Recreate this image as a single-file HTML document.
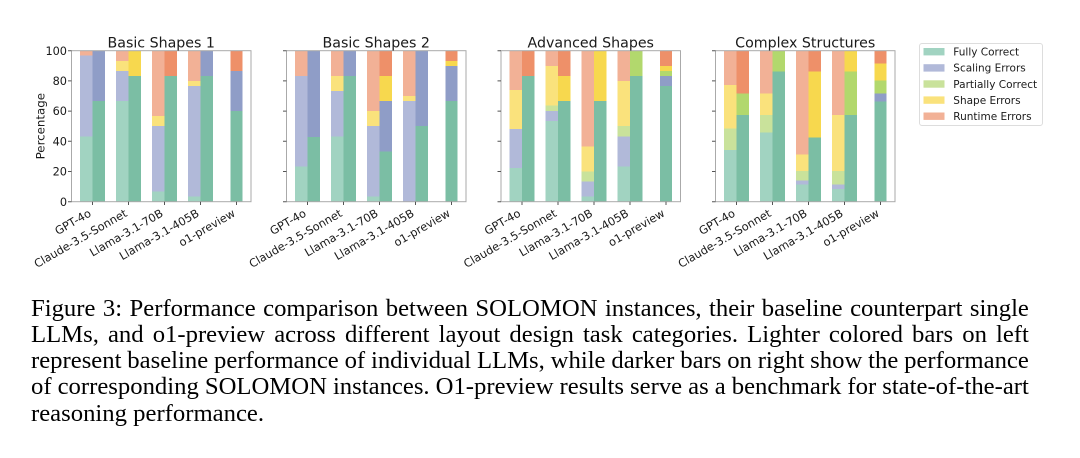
<!DOCTYPE html>
<html>
<head>
<meta charset="utf-8">
<style>
  html,body{margin:0;padding:0;background:#fff;}
  body{width:1080px;height:458px;position:relative;overflow:hidden;}
  svg{position:absolute;left:0;top:0;}
  .fl{fill:#a1d3c1}.fd{fill:#7bbea4}
  .sl{fill:#b1b9d9}.sd{fill:#8f9dc7}
  .pl{fill:#c9e29b}.pd{fill:#b2d86d}
  .hl{fill:#fae27c}.hd{fill:#f7d84e}
  .rl{fill:#f2b196}.rd{fill:#ee9069}
  .bars rect{shape-rendering:crispEdges;}
  .t{font-family:"DejaVu Sans",sans-serif;fill:#1a1a1a;}
  .cap{position:absolute;left:31px;width:998px;display:flex;justify-content:space-between;
       font-family:"Liberation Serif",serif;font-size:24.7px;line-height:26.25px;color:#000;white-space:nowrap;}
  .cap span{display:block;}
</style>
</head>
<body>
<svg width="1080" height="458" viewBox="0 0 1080 458" xmlns="http://www.w3.org/2000/svg">
  <!-- Panel 1 -->
  <g class="bars" transform="translate(71.5,201.7) scale(1,-1.51)">
    <rect class="fl" x="8.6" y="0" width="12.4" height="43.3"/>
    <rect class="sl" x="8.6" y="43.3" width="12.4" height="53.4"/>
    <rect class="rl" x="8.6" y="96.7" width="12.4" height="3.3"/>
    <rect class="fd" x="21" y="0" width="12.4" height="66.7"/>
    <rect class="sd" x="21" y="66.7" width="12.4" height="33.3"/>
    <rect class="fl" x="44.6" y="0" width="12.4" height="66.7"/>
    <rect class="sl" x="44.6" y="66.7" width="12.4" height="20"/>
    <rect class="hl" x="44.6" y="86.7" width="12.4" height="6.6"/>
    <rect class="rl" x="44.6" y="93.3" width="12.4" height="6.7"/>
    <rect class="fd" x="57" y="0" width="12.4" height="83.3"/>
    <rect class="hd" x="57" y="83.3" width="12.4" height="16.7"/>
    <rect class="fl" x="80.6" y="0" width="12.4" height="6.7"/>
    <rect class="sl" x="80.6" y="6.7" width="12.4" height="43.3"/>
    <rect class="hl" x="80.6" y="50" width="12.4" height="6.7"/>
    <rect class="rl" x="80.6" y="56.7" width="12.4" height="43.3"/>
    <rect class="fd" x="93" y="0" width="12.4" height="83.3"/>
    <rect class="rd" x="93" y="83.3" width="12.4" height="16.7"/>
    <rect class="fl" x="116.6" y="0" width="12.4" height="3.3"/>
    <rect class="sl" x="116.6" y="3.3" width="12.4" height="73.4"/>
    <rect class="hl" x="116.6" y="76.7" width="12.4" height="3.3"/>
    <rect class="rl" x="116.6" y="80" width="12.4" height="20"/>
    <rect class="fd" x="129" y="0" width="12.4" height="83.3"/>
    <rect class="sd" x="129" y="83.3" width="12.4" height="16.7"/>
    <rect class="fd" x="158.8" y="0" width="12.4" height="60"/>
    <rect class="sd" x="158.8" y="60" width="12.4" height="26.7"/>
    <rect class="rd" x="158.8" y="86.7" width="12.4" height="13.3"/>
  </g>
  <!-- Panel 2 -->
  <g class="bars" transform="translate(286.5,201.7) scale(1,-1.51)">
    <rect class="fl" x="8.6" y="0" width="12.4" height="23.3"/>
    <rect class="sl" x="8.6" y="23.3" width="12.4" height="60"/>
    <rect class="rl" x="8.6" y="83.3" width="12.4" height="16.7"/>
    <rect class="fd" x="21" y="0" width="12.4" height="42.7"/>
    <rect class="sd" x="21" y="42.7" width="12.4" height="57.3"/>
    <rect class="fl" x="44.6" y="0" width="12.4" height="43.3"/>
    <rect class="sl" x="44.6" y="43.3" width="12.4" height="30"/>
    <rect class="hl" x="44.6" y="73.3" width="12.4" height="10"/>
    <rect class="rl" x="44.6" y="83.3" width="12.4" height="16.7"/>
    <rect class="fd" x="57" y="0" width="12.4" height="83.3"/>
    <rect class="sd" x="57" y="83.3" width="12.4" height="16.7"/>
    <rect class="fl" x="80.6" y="0" width="12.4" height="3.3"/>
    <rect class="sl" x="80.6" y="3.3" width="12.4" height="46.7"/>
    <rect class="hl" x="80.6" y="50" width="12.4" height="10"/>
    <rect class="rl" x="80.6" y="60" width="12.4" height="40"/>
    <rect class="fd" x="93" y="0" width="12.4" height="33.3"/>
    <rect class="sd" x="93" y="33.3" width="12.4" height="33.4"/>
    <rect class="hd" x="93" y="66.7" width="12.4" height="16.6"/>
    <rect class="rd" x="93" y="83.3" width="12.4" height="16.7"/>
    <rect class="sl" x="116.6" y="0" width="12.4" height="66.7"/>
    <rect class="hl" x="116.6" y="66.7" width="12.4" height="3.3"/>
    <rect class="rl" x="116.6" y="70" width="12.4" height="30"/>
    <rect class="fd" x="129" y="0" width="12.4" height="50"/>
    <rect class="sd" x="129" y="50" width="12.4" height="50"/>
    <rect class="fd" x="158.8" y="0" width="12.4" height="66.7"/>
    <rect class="sd" x="158.8" y="66.7" width="12.4" height="23.3"/>
    <rect class="hd" x="158.8" y="90" width="12.4" height="3.3"/>
    <rect class="rd" x="158.8" y="93.3" width="12.4" height="6.7"/>
  </g>
  <!-- Panel 3 -->
  <g class="bars" transform="translate(501,201.7) scale(1,-1.51)">
    <rect class="fl" x="8.6" y="0" width="12.4" height="22.2"/>
    <rect class="sl" x="8.6" y="22.2" width="12.4" height="25.9"/>
    <rect class="hl" x="8.6" y="48.1" width="12.4" height="26"/>
    <rect class="rl" x="8.6" y="74.1" width="12.4" height="25.9"/>
    <rect class="fd" x="21" y="0" width="12.4" height="83.3"/>
    <rect class="rd" x="21" y="83.3" width="12.4" height="16.7"/>
    <rect class="fl" x="44.6" y="0" width="12.4" height="53.4"/>
    <rect class="sl" x="44.6" y="53.4" width="12.4" height="6.6"/>
    <rect class="pl" x="44.6" y="60" width="12.4" height="3.6"/>
    <rect class="hl" x="44.6" y="63.6" width="12.4" height="26.4"/>
    <rect class="rl" x="44.6" y="90" width="12.4" height="10"/>
    <rect class="fd" x="57" y="0" width="12.4" height="66.7"/>
    <rect class="hd" x="57" y="66.7" width="12.4" height="16.6"/>
    <rect class="rd" x="57" y="83.3" width="12.4" height="16.7"/>
    <rect class="fl" x="80.6" y="0" width="12.4" height="3.3"/>
    <rect class="sl" x="80.6" y="3.3" width="12.4" height="10"/>
    <rect class="pl" x="80.6" y="13.3" width="12.4" height="6.7"/>
    <rect class="hl" x="80.6" y="20" width="12.4" height="16.7"/>
    <rect class="rl" x="80.6" y="36.7" width="12.4" height="63.3"/>
    <rect class="fd" x="93" y="0" width="12.4" height="66.7"/>
    <rect class="hd" x="93" y="66.7" width="12.4" height="33.3"/>
    <rect class="fl" x="116.6" y="0" width="12.4" height="23.3"/>
    <rect class="sl" x="116.6" y="23.3" width="12.4" height="20"/>
    <rect class="pl" x="116.6" y="43.3" width="12.4" height="6.7"/>
    <rect class="hl" x="116.6" y="50" width="12.4" height="30"/>
    <rect class="rl" x="116.6" y="80" width="12.4" height="20"/>
    <rect class="fd" x="129" y="0" width="12.4" height="83.3"/>
    <rect class="pd" x="129" y="83.3" width="12.4" height="16.7"/>
    <rect class="fd" x="158.8" y="0" width="12.4" height="76.7"/>
    <rect class="sd" x="158.8" y="76.7" width="12.4" height="6.6"/>
    <rect class="pd" x="158.8" y="83.3" width="12.4" height="3.4"/>
    <rect class="hd" x="158.8" y="86.7" width="12.4" height="3.3"/>
    <rect class="rd" x="158.8" y="90" width="12.4" height="10"/>
  </g>
  <!-- Panel 4 -->
  <g class="bars" transform="translate(715.5,201.7) scale(1,-1.51)">
    <rect class="fl" x="8.6" y="0" width="12.4" height="34.2"/>
    <rect class="pl" x="8.6" y="34.2" width="12.4" height="14.4"/>
    <rect class="hl" x="8.6" y="48.6" width="12.4" height="28.7"/>
    <rect class="rl" x="8.6" y="77.3" width="12.4" height="22.7"/>
    <rect class="fd" x="21" y="0" width="12.4" height="57.4"/>
    <rect class="pd" x="21" y="57.4" width="12.4" height="14.3"/>
    <rect class="rd" x="21" y="71.7" width="12.4" height="28.3"/>
    <rect class="fl" x="44.6" y="0" width="12.4" height="45.7"/>
    <rect class="pl" x="44.6" y="45.7" width="12.4" height="11.7"/>
    <rect class="hl" x="44.6" y="57.4" width="12.4" height="14.3"/>
    <rect class="rl" x="44.6" y="71.7" width="12.4" height="28.3"/>
    <rect class="fd" x="57" y="0" width="12.4" height="86.1"/>
    <rect class="pd" x="57" y="86.1" width="12.4" height="13.9"/>
    <rect class="fl" x="80.6" y="0" width="12.4" height="11.5"/>
    <rect class="sl" x="80.6" y="11.5" width="12.4" height="2.4"/>
    <rect class="pl" x="80.6" y="13.9" width="12.4" height="6.4"/>
    <rect class="hl" x="80.6" y="20.3" width="12.4" height="11"/>
    <rect class="rl" x="80.6" y="31.3" width="12.4" height="68.7"/>
    <rect class="fd" x="93" y="0" width="12.4" height="42.6"/>
    <rect class="hd" x="93" y="42.6" width="12.4" height="43.5"/>
    <rect class="rd" x="93" y="86.1" width="12.4" height="13.9"/>
    <rect class="fl" x="116.6" y="0" width="12.4" height="8.4"/>
    <rect class="sl" x="116.6" y="8.4" width="12.4" height="3.1"/>
    <rect class="pl" x="116.6" y="11.5" width="12.4" height="8.8"/>
    <rect class="hl" x="116.6" y="20.3" width="12.4" height="37.1"/>
    <rect class="rl" x="116.6" y="57.4" width="12.4" height="42.6"/>
    <rect class="fd" x="129" y="0" width="12.4" height="57.4"/>
    <rect class="pd" x="129" y="57.4" width="12.4" height="28.7"/>
    <rect class="hd" x="129" y="86.1" width="12.4" height="13.9"/>
    <rect class="fd" x="158.8" y="0" width="12.4" height="66.2"/>
    <rect class="sd" x="158.8" y="66.2" width="12.4" height="5.5"/>
    <rect class="pd" x="158.8" y="71.7" width="12.4" height="8.4"/>
    <rect class="hd" x="158.8" y="80.1" width="12.4" height="11.5"/>
    <rect class="rd" x="158.8" y="91.6" width="12.4" height="8.4"/>
  </g>

  <!-- Frames -->
  <g fill="none" stroke="#aaaaaa" stroke-width="1">
    <rect x="71.5" y="50.7" width="179.5" height="151"/>
    <rect x="286.5" y="50.7" width="179.5" height="151"/>
    <rect x="501" y="50.7" width="179.5" height="151"/>
    <rect x="715.5" y="50.7" width="179.5" height="151"/>
  </g>

  <!-- Y tick marks -->
  <g stroke="#555" stroke-width="1">
    <path d="M68 201.7H71.5M68 171.5H71.5M68 141.3H71.5M68 111.1H71.5M68 80.9H71.5M68 50.7H71.5"/>
    <path d="M283 201.7H286.5M283 171.5H286.5M283 141.3H286.5M283 111.1H286.5M283 80.9H286.5M283 50.7H286.5"/>
    <path d="M497.5 201.7H501M497.5 171.5H501M497.5 141.3H501M497.5 111.1H501M497.5 80.9H501M497.5 50.7H501"/>
    <path d="M712 201.7H715.5M712 171.5H715.5M712 141.3H715.5M712 111.1H715.5M712 80.9H715.5M712 50.7H715.5"/>
    <!-- X tick marks -->
    <path d="M92.5 201.7V205M128.5 201.7V205M164.5 201.7V205M200.5 201.7V205M236.5 201.7V205"/>
    <path d="M307.5 201.7V205M343.5 201.7V205M379.5 201.7V205M415.5 201.7V205M451.5 201.7V205"/>
    <path d="M522 201.7V205M558 201.7V205M594 201.7V205M630 201.7V205M666 201.7V205"/>
    <path d="M736.5 201.7V205M772.5 201.7V205M808.5 201.7V205M844.5 201.7V205M880.5 201.7V205"/>
  </g>

  <!-- Y tick labels -->
  <g class="t" font-size="11.3" text-anchor="end">
    <text x="67" y="205.8">0</text>
    <text x="67" y="175.6">20</text>
    <text x="67" y="145.4">40</text>
    <text x="67" y="115.2">60</text>
    <text x="67" y="85">80</text>
    <text x="67" y="54.8">100</text>
  </g>
  <text class="t" font-size="11.8" text-anchor="middle" transform="translate(44.5,126.2) rotate(-90)">Percentage</text>

  <!-- Titles -->
  <g class="t" font-size="14.2" text-anchor="middle">
    <text x="161.25" y="47.3">Basic Shapes 1</text>
    <text x="376.25" y="47.3">Basic Shapes 2</text>
    <text x="590.75" y="47.3">Advanced Shapes</text>
    <text x="805.25" y="47.3">Complex Structures</text>
  </g>

  <!-- X tick labels -->
  <g class="t" font-size="11.3" text-anchor="end">
    <text transform="translate(92,215.5) rotate(-30)">GPT-4o</text>
    <text transform="translate(128,215.5) rotate(-30)">Claude-3.5-Sonnet</text>
    <text transform="translate(164,215.5) rotate(-30)">Llama-3.1-70B</text>
    <text transform="translate(200,215.5) rotate(-30)">Llama-3.1-405B</text>
    <text transform="translate(236,215.5) rotate(-30)">o1-preview</text>

    <text transform="translate(307,215.5) rotate(-30)">GPT-4o</text>
    <text transform="translate(343,215.5) rotate(-30)">Claude-3.5-Sonnet</text>
    <text transform="translate(379,215.5) rotate(-30)">Llama-3.1-70B</text>
    <text transform="translate(415,215.5) rotate(-30)">Llama-3.1-405B</text>
    <text transform="translate(451,215.5) rotate(-30)">o1-preview</text>

    <text transform="translate(521.5,215.5) rotate(-30)">GPT-4o</text>
    <text transform="translate(557.5,215.5) rotate(-30)">Claude-3.5-Sonnet</text>
    <text transform="translate(593.5,215.5) rotate(-30)">Llama-3.1-70B</text>
    <text transform="translate(629.5,215.5) rotate(-30)">Llama-3.1-405B</text>
    <text transform="translate(665.5,215.5) rotate(-30)">o1-preview</text>

    <text transform="translate(736,215.5) rotate(-30)">GPT-4o</text>
    <text transform="translate(772,215.5) rotate(-30)">Claude-3.5-Sonnet</text>
    <text transform="translate(808,215.5) rotate(-30)">Llama-3.1-70B</text>
    <text transform="translate(844,215.5) rotate(-30)">Llama-3.1-405B</text>
    <text transform="translate(880,215.5) rotate(-30)">o1-preview</text>
  </g>

  <!-- Legend -->
  <rect x="919.5" y="43.5" width="123" height="82" rx="2.5" fill="#fff" stroke="#dddddd" stroke-width="1"/>
  <rect class="fl" x="923.5" y="48" width="21" height="7.4"/>
  <rect class="sl" x="923.5" y="64.2" width="21" height="7.4"/>
  <rect class="pl" x="923.5" y="80.3" width="21" height="7.4"/>
  <rect class="hl" x="923.5" y="96.4" width="21" height="7.4"/>
  <rect class="rl" x="923.5" y="112.5" width="21" height="7.4"/>
  <g class="t" font-size="10.5">
    <text x="953.3" y="55.5">Fully Correct</text>
    <text x="953.3" y="71.7">Scaling Errors</text>
    <text x="953.3" y="87.8">Partially Correct</text>
    <text x="953.3" y="103.9">Shape Errors</text>
    <text x="953.3" y="120">Runtime Errors</text>
  </g>
</svg>

<div class="cap" style="top:295.5px;"><span>Figure</span><span>3:</span><span>Performance</span><span>comparison</span><span>between</span><span>SOLOMON</span><span>instances,</span><span>their</span><span>baseline</span><span>counterpart</span><span>single</span></div>
<div class="cap" style="top:321.75px;"><span>LLMs,</span><span>and</span><span>o1-preview</span><span>across</span><span>different</span><span>layout</span><span>design</span><span>task</span><span>categories.</span><span>Lighter</span><span>colored</span><span>bars</span><span>on</span><span>left</span></div>
<div class="cap" style="top:348px;"><span>represent</span><span>baseline</span><span>performance</span><span>of</span><span>individual</span><span>LLMs,</span><span>while</span><span>darker</span><span>bars</span><span>on</span><span>right</span><span>show</span><span>the</span><span>performance</span></div>
<div class="cap" style="top:374.25px;"><span>of</span><span>corresponding</span><span>SOLOMON</span><span>instances.</span><span>O1-preview</span><span>results</span><span>serve</span><span>as</span><span>a</span><span>benchmark</span><span>for</span><span>state-of-the-art</span></div>
<div class="cap" style="top:400.5px;justify-content:flex-start;"><span>reasoning&nbsp;performance.</span></div>
</body>
</html>
